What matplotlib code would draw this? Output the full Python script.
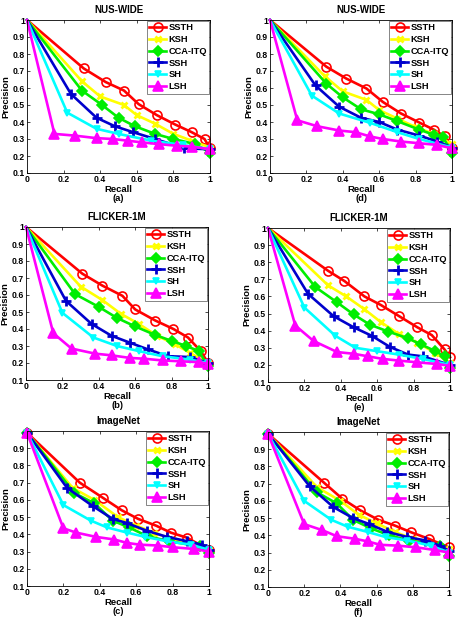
import matplotlib
matplotlib.use("Agg")
import matplotlib.pyplot as plt

plt.rcParams["font.family"] = ["Liberation Sans", "DejaVu Sans"]
plt.rcParams["font.weight"] = "bold"

methods = ["SSTH", "KSH", "CCA-ITQ", "SSH", "SH", "LSH"]
colors = ["#ff0000", "#ffff00", "#00ee00", "#0000cc", "#00ffff", "#ff00ff"]
markers = ["o", "x", "D", "+", "v", "^"]

# panel (a) NUS-WIDE
a_recall = {
    "SSTH": [0, 0.31, 0.43, 0.53, 0.61, 0.71, 0.81, 0.9, 0.97, 1.0],
    "KSH": [0, 0.3, 0.4, 0.53, 0.6, 0.7, 0.8, 0.9, 1.0],
    "CCA-ITQ": [0, 0.3, 0.41, 0.5, 0.59, 0.7, 0.8, 0.92, 1.0],
    "SSH": [0, 0.24, 0.38, 0.48, 0.58, 0.7, 0.86, 1.0],
    "SH": [0, 0.22, 0.38, 0.5, 0.68, 0.85, 1.0],
    "LSH": [0, 0.15, 0.26, 0.38, 0.47, 0.55, 0.63, 0.72, 0.82, 0.9, 1.0],
}
a_prec = {
    "SSTH": [1, 0.715, 0.635, 0.585, 0.505, 0.44, 0.385, 0.34, 0.3, 0.245],
    "KSH": [1, 0.64, 0.55, 0.5, 0.44, 0.39, 0.33, 0.29, 0.25],
    "CCA-ITQ": [1, 0.585, 0.5, 0.425, 0.375, 0.33, 0.3, 0.27, 0.22],
    "SSH": [1, 0.565, 0.425, 0.375, 0.34, 0.3, 0.245, 0.24],
    "SH": [1, 0.455, 0.36, 0.33, 0.29, 0.265, 0.24],
    "LSH": [1, 0.33, 0.32, 0.305, 0.3, 0.29, 0.28, 0.27, 0.26, 0.255, 0.24],
}

# panel (d) NUS-WIDE
d_recall = {
    "SSTH": [0, 0.31, 0.42, 0.53, 0.62, 0.72, 0.82, 0.9, 0.96, 1.0],
    "KSH": [0, 0.3, 0.4, 0.53, 0.6, 0.7, 0.8, 0.9, 1.0],
    "CCA-ITQ": [0, 0.31, 0.4, 0.5, 0.6, 0.7, 0.82, 0.9, 0.95, 1.0],
    "SSH": [0, 0.25, 0.38, 0.5, 0.6, 0.7, 0.82, 0.92, 1.0],
    "SH": [0, 0.23, 0.38, 0.55, 0.7, 0.82, 1.0],
    "LSH": [0, 0.15, 0.26, 0.38, 0.47, 0.55, 0.62, 0.72, 0.82, 0.92, 1.0],
}
d_prec = {
    "SSTH": [1, 0.725, 0.655, 0.597, 0.518, 0.45, 0.397, 0.355, 0.315, 0.25],
    "KSH": [1, 0.67, 0.58, 0.53, 0.47, 0.42, 0.37, 0.33, 0.27],
    "CCA-ITQ": [1, 0.625, 0.545, 0.475, 0.445, 0.405, 0.355, 0.325, 0.31, 0.22],
    "SSH": [1, 0.615, 0.49, 0.425, 0.4, 0.355, 0.32, 0.285, 0.25],
    "SH": [1, 0.555, 0.45, 0.395, 0.34, 0.3, 0.25],
    "LSH": [1, 0.41, 0.375, 0.35, 0.34, 0.315, 0.3, 0.285, 0.275, 0.265, 0.245],
}

# panel (b) FLICKER-1M
b_recall = {
    "SSTH": [0, 0.31, 0.42, 0.53, 0.6, 0.71, 0.81, 0.89, 0.96, 1.0],
    "KSH": [0, 0.3, 0.42, 0.52, 0.62, 0.72, 0.82, 0.9, 1.0],
    "CCA-ITQ": [0, 0.27, 0.4, 0.5, 0.6, 0.71, 0.8, 0.88, 0.95, 1.0],
    "SSH": [0, 0.22, 0.36, 0.47, 0.57, 0.67, 0.78, 0.9, 1.0],
    "SH": [0, 0.2, 0.37, 0.5, 0.62, 0.75, 0.9, 1.0],
    "LSH": [0, 0.15, 0.25, 0.38, 0.47, 0.57, 0.65, 0.75, 0.85, 0.95, 1.0],
}
b_prec = {
    "SSTH": [1, 0.725, 0.655, 0.595, 0.515, 0.45, 0.4, 0.35, 0.27, 0.2],
    "KSH": [1, 0.65, 0.57, 0.49, 0.43, 0.36, 0.31, 0.26, 0.2],
    "CCA-ITQ": [1, 0.605, 0.53, 0.465, 0.415, 0.365, 0.33, 0.3, 0.27, 0.18],
    "SSH": [1, 0.565, 0.43, 0.36, 0.32, 0.28, 0.24, 0.235, 0.2],
    "SH": [1, 0.495, 0.35, 0.3, 0.27, 0.24, 0.22, 0.2],
    "LSH": [1, 0.375, 0.285, 0.255, 0.245, 0.23, 0.225, 0.215, 0.21, 0.205, 0.195],
}

# panel (e) FLICKER-1M
e_recall = {
    "SSTH": [0, 0.33, 0.42, 0.53, 0.62, 0.72, 0.82, 0.9, 0.97, 1.0],
    "KSH": [0, 0.33, 0.43, 0.53, 0.62, 0.72, 0.82, 0.92, 1.0],
    "CCA-ITQ": [0, 0.26, 0.38, 0.47, 0.56, 0.66, 0.77, 0.84, 0.92, 0.97, 1.0],
    "SSH": [0, 0.22, 0.36, 0.47, 0.57, 0.67, 0.77, 0.85, 1.0],
    "SH": [0, 0.2, 0.37, 0.48, 0.6, 0.72, 0.85, 1.0],
    "LSH": [0, 0.15, 0.25, 0.38, 0.47, 0.55, 0.63, 0.72, 0.82, 0.93, 1.0],
}
e_prec = {
    "SSTH": [1, 0.75, 0.69, 0.6, 0.55, 0.485, 0.42, 0.374, 0.29, 0.245],
    "KSH": [1, 0.665, 0.6, 0.525, 0.45, 0.38, 0.33, 0.27, 0.21],
    "CCA-ITQ": [1, 0.655, 0.565, 0.495, 0.435, 0.395, 0.355, 0.32, 0.28, 0.25, 0.18],
    "SSH": [1, 0.615, 0.485, 0.42, 0.37, 0.305, 0.26, 0.25, 0.2],
    "SH": [1, 0.535, 0.37, 0.3, 0.28, 0.26, 0.235, 0.2],
    "LSH": [1, 0.43, 0.34, 0.275, 0.265, 0.25, 0.235, 0.225, 0.215, 0.205, 0.195],
}

# panel (c) ImageNet
c_recall = {
    "SSTH": [0, 0.29, 0.42, 0.52, 0.61, 0.71, 0.79, 0.88, 1.0],
    "KSH": [0, 0.25, 0.37, 0.5, 0.6, 0.7, 0.8, 1.0],
    "CCA-ITQ": [0, 0.26, 0.37, 0.47, 0.56, 0.66, 0.78, 0.95, 1.0],
    "SSH": [0, 0.22, 0.36, 0.47, 0.55, 0.66, 0.77, 0.88, 0.96, 1.0],
    "SH": [0, 0.2, 0.35, 0.44, 0.55, 0.65, 0.77, 0.9, 1.0],
    "LSH": [0, 0.2, 0.27, 0.38, 0.48, 0.55, 0.62, 0.72, 0.8, 0.92, 1.0],
}
c_prec = {
    "SSTH": [0.99, 0.7, 0.61, 0.54, 0.49, 0.45, 0.41, 0.38, 0.31],
    "KSH": [0.99, 0.67, 0.6, 0.5, 0.45, 0.41, 0.37, 0.31],
    "CCA-ITQ": [0.99, 0.64, 0.58, 0.48, 0.44, 0.39, 0.36, 0.33, 0.29],
    "SSH": [0.99, 0.67, 0.565, 0.49, 0.465, 0.42, 0.385, 0.36, 0.34, 0.31],
    "SH": [0.99, 0.57, 0.48, 0.44, 0.41, 0.385, 0.36, 0.34, 0.31],
    "LSH": [0.99, 0.435, 0.41, 0.385, 0.37, 0.35, 0.34, 0.335, 0.325, 0.315, 0.3],
}

# panel (f) ImageNet
f_recall = {
    "SSTH": [0, 0.31, 0.41, 0.51, 0.61, 0.7, 0.79, 0.89, 1.0],
    "KSH": [0, 0.27, 0.4, 0.5, 0.6, 0.7, 0.8, 1.0],
    "CCA-ITQ": [0, 0.27, 0.38, 0.47, 0.57, 0.67, 0.78, 0.95, 1.0],
    "SSH": [0, 0.23, 0.36, 0.47, 0.56, 0.66, 0.77, 0.87, 0.95, 1.0],
    "SH": [0, 0.2, 0.35, 0.44, 0.55, 0.65, 0.77, 0.9, 1.0],
    "LSH": [0, 0.2, 0.3, 0.38, 0.48, 0.55, 0.62, 0.72, 0.82, 0.92, 1.0],
}
f_prec = {
    "SSTH": [0.99, 0.705, 0.613, 0.545, 0.49, 0.457, 0.418, 0.379, 0.33],
    "KSH": [0.99, 0.68, 0.6, 0.52, 0.47, 0.42, 0.38, 0.32],
    "CCA-ITQ": [0.99, 0.65, 0.585, 0.49, 0.44, 0.4, 0.37, 0.34, 0.28],
    "SSH": [0.99, 0.685, 0.565, 0.5, 0.465, 0.42, 0.39, 0.37, 0.34, 0.31],
    "SH": [0.99, 0.6, 0.49, 0.45, 0.42, 0.39, 0.37, 0.34, 0.3],
    "LSH": [0.99, 0.465, 0.43, 0.395, 0.38, 0.365, 0.345, 0.34, 0.33, 0.315, 0.3],
}

panels = [
    ("NUS-WIDE", "(a)", a_recall, a_prec, False, True),
    ("NUS-WIDE", "(d)", d_recall, d_prec, False, True),
    ("FLICKER-1M", "(b)", b_recall, b_prec, False, True),
    ("FLICKER-1M", "(e)", e_recall, e_prec, False, True),
    ("ImageNet", "(c)", c_recall, c_prec, True, False),
    ("ImageNet", "(f)", f_recall, f_prec, True, False),
]

W, H = 459, 622
fig = plt.figure(figsize=(W / 100, H / 100), dpi=100)
fig.patch.set_facecolor("white")

# axes boxes in pixels: left, top, width, height
boxes = [(27, 20, 183, 153), (270, 20, 182, 153),
         (26, 227, 182, 153), (268, 228, 182, 154),
         (27, 431, 182, 155), (268, 432, 181, 155)]

for (title, tag, rec, prec, mark_start, tick_one), (l, t, w, h) in zip(panels, boxes):
    ax = fig.add_axes([l / W, 1 - (t + h) / H, w / W, h / H])
    for m, c, mk in zip(methods, colors, markers):
        start = 0 if mark_start else 1
        ms = {"o": 6.5, "^": 6.5, "+": 6.5, "x": 5.0, "D": 4.8, "v": 5.0}[mk]
        mew = 2.0 if mk in ("x", "+") else 1.2
        mfc = "none" if mk == "o" else c
        ax.plot(rec[m], prec[m], color=c, lw=1.9, marker=mk, ms=ms,
                mew=mew, mfc=mfc, mec=c, markevery=slice(start, None),
                clip_on=False, label=m)
    ax.set_xlim(0, 1)
    ax.set_ylim(0.1, 1)
    ax.set_xticks([0, 0.2, 0.4, 0.6, 0.8, 1])
    ax.set_xticklabels(["0", "0.2", "0.4", "0.6", "0.8", "1"])
    if tick_one:
        ax.set_yticks([0.1, 0.2, 0.3, 0.4, 0.5, 0.6, 0.7, 0.8, 0.9, 1])
        ax.set_yticklabels(["0.1", "0.2", "0.3", "0.4", "0.5", "0.6",
                            "0.7", "0.8", "0.9", "1"])
    else:
        ax.set_yticks([0.1, 0.2, 0.3, 0.4, 0.5, 0.6, 0.7, 0.8, 0.9])
        ax.set_yticklabels(["0.1", "0.2", "0.3", "0.4", "0.5", "0.6",
                            "0.7", "0.8", "0.9"])
    ax.tick_params(direction="in", length=2.5, width=0.5, labelsize=6.2,
                   top=True, right=True, pad=1.5)
    for lab in ax.get_xticklabels() + ax.get_yticklabels():
        lab.set_fontweight("bold")
    for s in ax.spines.values():
        s.set_linewidth(0.6)
    ax.set_title(title, fontsize=7, fontweight="bold", pad=5)
    ax.set_xlabel("Recall\n" + tag, fontsize=6.8, fontweight="bold",
                  labelpad=1, linespacing=1.0)
    ax.set_ylabel("Precision", fontsize=6.8, fontweight="bold", labelpad=2)
    leg = ax.legend(loc="upper right", handlelength=1.8,
                    handletextpad=0.25, borderpad=0.25, labelspacing=0.3,
                    borderaxespad=0.1, fancybox=False, framealpha=1,
                    prop={"weight": "bold", "size": 6.7})
    leg.get_frame().set_linewidth(0.5)
    leg.get_frame().set_edgecolor("#555555")

fig.savefig("out.png", dpi=100, facecolor="white")
